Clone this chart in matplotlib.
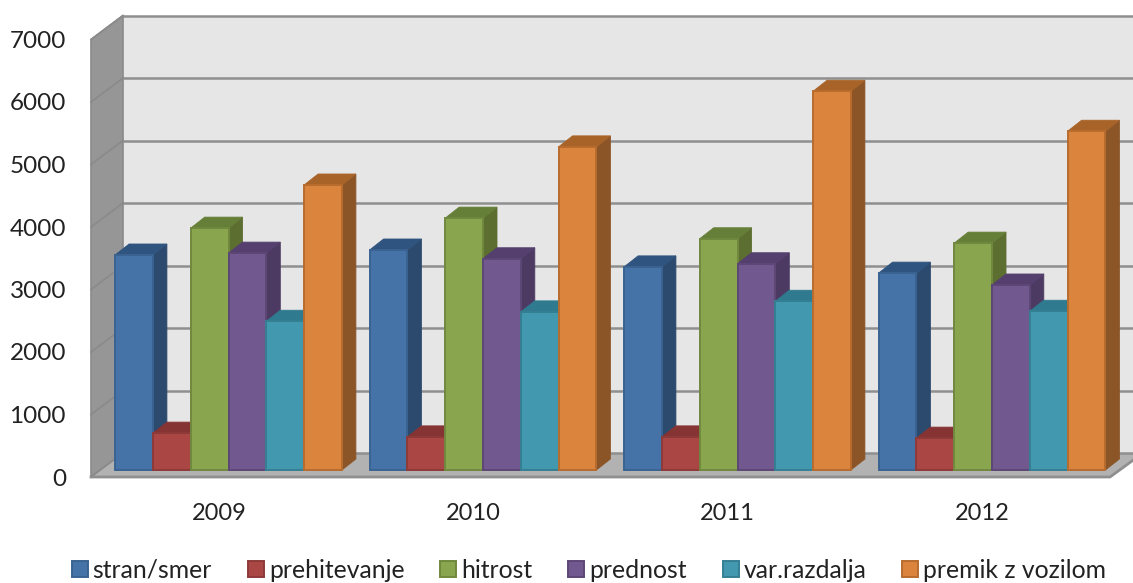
import matplotlib
matplotlib.use("Agg")
import matplotlib.pyplot as plt
from matplotlib.patches import Polygon

plt.rcParams['font.family'] = ['Lato', 'DejaVu Sans']

# values
years = ["2009", "2010", "2011", "2012"]
stran_smer = [3440, 3520, 3250, 3150]
prehitevanje = [590, 530, 530, 510]
hitrost = [3870, 4030, 3700, 3630]
prednost = [3470, 3380, 3300, 2960]
var_razdalja = [2380, 2530, 2700, 2540]
premik = [4560, 5170, 6060, 5420]
y_ticks = [0, 1000, 2000, 3000, 4000, 5000, 6000, 7000]

series = [stran_smer, prehitevanje, hitrost, prednost, var_razdalja, premik]
names = ["stran/smer", "prehitevanje", "hitrost", "prednost", "var.razdalja", "premik z vozilom"]
front = ["#4572A7", "#AA4643", "#89A54E", "#71588F", "#4198AF", "#DB843D"]
edge = ["#3A6391", "#8E3A38", "#71883F", "#5D4776", "#357F93", "#B86C2E"]
side = ["#2C4A6E", "#7A2F2E", "#5C6E30", "#4D3A62", "#2B6D80", "#8C5527"]
top = ["#2F5480", "#853433", "#667F38", "#553F6F", "#2F7A8F", "#A86328"]

PX_PER_GROUP = 254.5
PX_PER_UNIT = 0.0625
BAR_W = 37.8 / PX_PER_GROUP
DEPTH_X = 14 / PX_PER_GROUP
DEPTH_Y = 11 / PX_PER_UNIT


# pixel position of the picture -> data position
def dx(px):
    return (px - 228.5) / PX_PER_GROUP


def dy(px):
    return (470 - px) / PX_PER_UNIT


fig = plt.figure(figsize=(11.33, 5.83), dpi=100)
ax = fig.add_axes([0, 0, 1, 1])
ax.set_xlim(dx(0), dx(1133))
ax.set_ylim(dy(583), dy(0))
ax.axis("off")

# walls and floor
wall_back = dy(453)
wall_front = dy(477)
h7 = y_ticks[-1]
ax.add_patch(Polygon([(dx(123), wall_back), (dx(1160), wall_back), (dx(1160), wall_back + h7), (dx(123), wall_back + h7)],
                     facecolor="#E6E6E6", edgecolor="none", zorder=1))
ax.add_patch(Polygon([(dx(91), wall_front), (dx(123), wall_back), (dx(123), wall_back + h7), (dx(91), wall_front + h7)],
                     facecolor="#969696", edgecolor="#8A8A8A", lw=1.2, zorder=1))
ax.add_patch(Polygon([(dx(91), wall_front), (dx(123), wall_back), (dx(1143), wall_back), (dx(1110), wall_front)],
                     facecolor="#B2B2B2", edgecolor="none", zorder=1))
for t in y_ticks:
    ax.plot([dx(123), dx(1160)], [wall_back + t, wall_back + t], color="#8F8F8F", lw=1.8, zorder=2)
    ax.plot([dx(91), dx(123)], [wall_front + t, wall_back + t], color="#8A8A8A", lw=1.2, zorder=2)
    ax.text(dx(66), wall_front + t - 2 / PX_PER_UNIT, str(t), ha="right", va="center", fontsize=17.5, color="#222222")
ax.plot([dx(91), dx(1110), dx(1143)], [wall_front, wall_front, wall_back], color="#8F8F8F", lw=2, zorder=2)

# bars, left to right so the later ones cover the sides of the earlier ones
z = 3
handles = []
for g in range(len(years)):
    for i, vals in enumerate(series):
        x0 = g - 3 * BAR_W + i * BAR_W
        v = vals[g]
        ax.add_patch(Polygon([(x0 + BAR_W, 0), (x0 + BAR_W + DEPTH_X, DEPTH_Y),
                              (x0 + BAR_W + DEPTH_X, v + DEPTH_Y), (x0 + BAR_W, v)],
                             facecolor=side[i], edgecolor=side[i], lw=0.6, zorder=z))
        ax.add_patch(Polygon([(x0, v), (x0 + DEPTH_X, v + DEPTH_Y),
                              (x0 + BAR_W + DEPTH_X, v + DEPTH_Y), (x0 + BAR_W, v)],
                             facecolor=top[i], edgecolor=top[i], lw=0.6, zorder=z))
        b = ax.bar(x0, v, BAR_W, align="edge", color=front[i], edgecolor=edge[i], lw=1.4, zorder=z + 0.5)
        if g == 0:
            handles.append(b)
        z += 1

for g, year in enumerate(years):
    ax.text(dx(219 + g * 254.4), dy(514), year, ha="center", va="center", fontsize=17, color="#222222")

ax.legend(handles, names, loc="center", bbox_to_anchor=(589 / 1133, 1 - 570 / 583), ncol=6, frameon=False,
          fontsize=17.8, handlelength=0.65, handleheight=0.65, handletextpad=0.2, columnspacing=1.45,
          labelcolor="#222222", borderpad=0)

fig.savefig("out.png", dpi=100)
